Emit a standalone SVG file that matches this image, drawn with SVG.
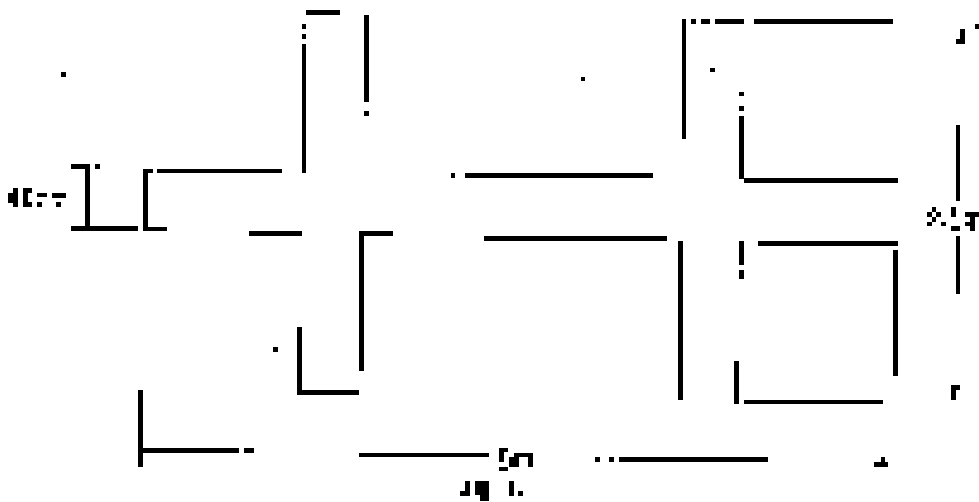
<svg xmlns="http://www.w3.org/2000/svg" width="979" height="502" viewBox="0 0 979 502">
<style>rect{fill:#000;shape-rendering:crispEdges}</style>
<rect x="0" y="0" width="979" height="502" style="fill:#fff"/>
<g id="walls">
<rect x="306" y="10" width="34" height="5"/><rect x="302" y="44" width="4" height="129"/><rect x="302" y="24" width="4" height="5"/><rect x="302" y="34" width="4" height="5"/>
<rect x="364" y="15" width="5" height="87"/><rect x="364" y="111" width="5" height="5"/>
<rect x="71" y="164" width="19" height="5"/><rect x="85" y="164" width="5" height="67"/><rect x="71" y="226" width="67" height="5"/><rect x="95" y="164" width="5" height="5"/>
<rect x="143" y="169" width="5" height="62"/><rect x="143" y="169" width="10" height="4"/><rect x="157" y="169" width="125" height="4"/><rect x="143" y="227" width="24" height="4"/>
<rect x="249" y="231" width="53" height="5"/><rect x="359" y="231" width="34" height="5"/><rect x="359" y="231" width="5" height="140"/>
<rect x="297" y="327" width="5" height="68"/><rect x="297" y="390" width="62" height="5"/>
<rect x="138" y="390" width="5" height="77"/><rect x="138" y="448" width="101" height="5"/><rect x="244" y="448" width="10" height="5"/>
<rect x="359" y="453" width="130" height="4"/>
<rect x="465" y="173" width="188" height="5"/><rect x="451" y="173" width="4" height="5"/>
<rect x="484" y="236" width="183" height="5"/><rect x="678" y="241" width="5" height="159"/>
<rect x="682" y="19" width="4" height="120"/><rect x="691" y="19" width="5" height="5"/><rect x="701" y="19" width="9" height="5"/><rect x="715" y="19" width="29" height="5"/><rect x="754" y="19" width="139" height="5"/>
<rect x="710" y="68" width="5" height="4"/><rect x="739" y="92" width="5" height="4"/><rect x="739" y="106" width="5" height="5"/><rect x="739" y="116" width="5" height="63"/>
<rect x="744" y="178" width="154" height="5"/><rect x="739" y="241" width="5" height="24"/><rect x="739" y="270" width="5" height="9"/>
<rect x="758" y="241" width="140" height="5"/><rect x="893" y="250" width="5" height="126"/>
<rect x="734" y="361" width="5" height="43"/><rect x="744" y="400" width="139" height="4"/>
<rect x="619" y="457" width="149" height="5"/><rect x="595" y="457" width="5" height="5"/><rect x="609" y="457" width="5" height="5"/>
<rect x="956" y="125" width="4" height="76"/><rect x="956" y="236" width="4" height="58"/>
</g>
<g id="marks">
<rect x="61" y="72" width="5" height="5"/><rect x="581" y="77" width="4" height="4"/><rect x="273" y="347" width="5" height="5"/>
<rect x="8" y="193" width="6" height="10"/><rect x="13" y="188" width="5" height="19"/><rect x="23" y="188" width="9" height="5"/><rect x="23" y="188" width="5" height="19"/><rect x="23" y="202" width="9" height="5"/>
<rect x="37" y="193" width="10" height="4"/><rect x="37" y="202" width="5" height="5"/><rect x="52" y="193" width="14" height="5"/><rect x="56" y="202" width="5" height="5"/>
<rect x="960" y="29" width="5" height="14"/><rect x="956" y="39" width="9" height="5"/><rect x="975" y="24" width="4" height="5"/>
<rect x="932" y="207" width="4" height="5"/><rect x="927" y="212" width="5" height="5"/><rect x="936" y="212" width="5" height="5"/><rect x="932" y="217" width="4" height="5"/><rect x="927" y="222" width="5" height="4"/><rect x="941" y="222" width="5" height="4"/>
<rect x="951" y="207" width="5" height="10"/><rect x="951" y="226" width="9" height="5"/>
<rect x="965" y="212" width="14" height="5"/><rect x="970" y="212" width="5" height="19"/><rect x="965" y="222" width="5" height="4"/>
<rect x="951" y="385" width="5" height="15"/><rect x="951" y="385" width="9" height="5"/>
<rect x="881" y="457" width="4" height="5"/><rect x="874" y="462" width="14" height="5"/>
<rect x="499" y="448" width="5" height="14"/><rect x="499" y="448" width="9" height="4"/><rect x="499" y="467" width="9" height="4"/>
<rect x="509" y="457" width="10" height="10"/><rect x="514" y="453" width="19" height="4"/><rect x="528" y="453" width="5" height="14"/>
<rect x="465" y="481" width="5" height="15"/><rect x="460" y="491" width="10" height="5"/><rect x="475" y="481" width="14" height="14"/><rect x="480" y="495" width="9" height="6"/>
<rect x="509" y="481" width="5" height="15"/><rect x="518" y="491" width="5" height="5"/>
</g>
</svg>
